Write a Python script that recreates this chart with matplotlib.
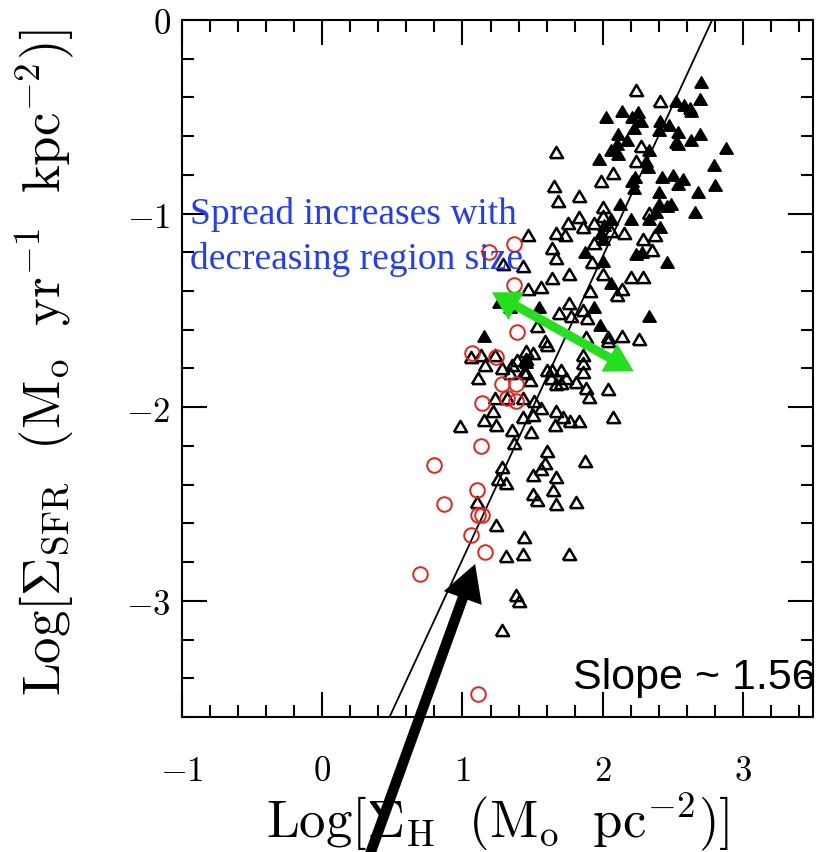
import numpy as np
import matplotlib
matplotlib.use("Agg")
import matplotlib.pyplot as plt
from matplotlib.patches import FancyArrowPatch

plt.rcParams['mathtext.fontset'] = 'cm'

# open triangles (log Sigma_H, log Sigma_SFR)
open_x = [2.24, 2.41, 2.27, 2.24, 2.07, 1.99, 1.83, 2.00, 2.00, 1.94, 1.86, 2.15, 2.06, 2.33, 2.29,
          2.37, 2.35, 1.94, 1.92, 2.00, 2.20, 2.29, 2.14, 2.10, 1.91, 1.86, 1.89, 2.035, 2.04, 2.14,
          2.255, 1.88, 1.67, 1.65, 1.68, 1.75, 1.83, 1.47, 1.67, 1.73, 1.64, 1.67, 1.29, 1.43, 1.76,
          1.64, 1.47, 1.56, 1.76, 1.69, 1.775, 1.53, 1.585, 1.60, 1.455, 1.50, 1.39, 1.35, 1.28,
          1.16, 1.455, 1.48, 1.60, 1.64, 1.70, 1.63, 1.70, 1.67, 1.74, 1.81, 1.86, 1.86, 1.86, 1.88,
          1.90, 2.035, 2.07, 1.23, 1.22, 1.15, 1.24, 1.43, 1.50, 1.51, 1.56, 1.67, 1.715, 1.77, 1.83,
          1.66, 1.35, 1.49, 1.37, 1.60, 1.59, 1.56, 1.50, 1.67, 1.87, 1.28, 1.11, 1.06, 1.34, 1.44,
          1.32, 1.43, 0.98, 1.25, 1.31, 1.645, 1.50, 1.53, 1.67, 1.81, 1.10, 1.24, 1.44, 1.43, 1.31,
          1.76, 1.38, 1.40, 1.28, 1.135, 1.23, 1.455]
open_y = [-0.364, -0.416, -0.65, -0.73, -0.79, -0.83, -0.91, -0.965, -1.01, -1.05, -1.07, -1.10, -1.09,
          -0.995, -1.13, -1.11, -1.19, -1.15, -1.25, -1.31, -1.33, -1.33, -1.39, -1.42, -1.40, -1.50,
          -1.54, -1.635, -1.66, -1.63, -1.65, -1.64, -0.68, -0.86, -0.935, -1.05, -1.02, -1.11, -1.10,
          -1.11, -1.18, -1.23, -1.26, -1.27, -1.31, -1.335, -1.39, -1.38, -1.46, -1.515, -1.53, -1.58,
          -1.66, -1.68, -1.71, -1.72, -1.755, -1.78, -1.795, -1.78, -1.825, -1.86, -1.81, -1.81, -1.81,
          -1.85, -1.875, -1.88, -1.85, -1.87, -1.73, -1.77, -1.82, -1.90, -1.945, -1.905, -2.05, -1.95,
          -2.02, -2.065, -2.09, -2.05, -2.04, -1.97, -2.005, -2.02, -2.05, -2.07, -2.07, -2.09, -2.12,
          -2.13, -2.185, -2.225, -2.29, -2.32, -2.35, -2.36, -2.28, -2.31, -1.85, -1.74, -1.825, -1.82,
          -1.95, -1.95, -2.095, -2.37, -2.39, -2.43, -2.45, -2.48, -2.50, -2.49, -2.49, -2.61, -2.67,
          -2.76, -2.77, -2.76, -2.97, -3.00, -3.15, -1.73, -1.73, -1.75]

# filled triangles
fill_x = [2.70, 2.69, 2.52, 2.58, 2.62, 2.63, 2.02, 2.14, 2.25, 2.21, 2.27, 2.41, 2.47, 2.40, 2.22,
          2.11, 2.54, 2.69, 2.17, 2.52, 2.63, 2.54, 2.88, 2.10, 2.06, 2.11, 2.33, 1.97, 2.31, 2.32,
          2.79, 2.23, 2.42, 2.50, 2.57, 2.54, 2.21, 2.22, 2.80, 2.68, 2.40, 2.12, 2.40, 2.49, 2.46,
          2.38, 2.66, 2.06, 2.20, 2.33, 2.01, 2.41, 1.99, 2.00, 1.87, 2.24, 2.28, 2.46, 2.00, 2.06,
          1.94, 2.33, 1.98, 1.545, 1.26, 1.34, 1.15, 1.455]
fill_y = [-0.318, -0.41, -0.42, -0.44, -0.455, -0.47, -0.50, -0.47, -0.476, -0.50, -0.52, -0.52, -0.545,
          -0.57, -0.56, -0.59, -0.58, -0.59, -0.62, -0.63, -0.62, -0.64, -0.66, -0.64, -0.67, -0.69,
          -0.67, -0.72, -0.73, -0.76, -0.75, -0.81, -0.81, -0.80, -0.82, -0.845, -0.83, -0.87, -0.85,
          -0.89, -0.89, -0.95, -0.95, -0.95, -0.96, -0.99, -0.99, -1.03, -1.03, -1.03, -1.06, -1.07,
          -1.10, -1.13, -1.20, -1.21, -1.20, -1.25, -1.245, -1.36, -1.48, -1.53, -1.575, -1.48, -1.455,
          -1.48, -1.63, -1.765]

# red open circles
circ_x = [1.37, 1.19, 1.37, 1.39, 1.07, 1.24, 1.28, 1.38, 1.32, 1.38, 1.14, 1.13, 0.80, 1.10, 0.87,
          1.11, 1.14, 1.06, 1.16, 0.70, 1.11]
circ_y = [-1.155, -1.20, -1.37, -1.61, -1.72, -1.74, -1.88, -1.88, -1.95, -1.97, -1.98, -2.20, -2.30,
          -2.43, -2.50, -2.555, -2.555, -2.66, -2.75, -2.86, -3.48]

# fitted relation, slope ~1.56
fit_x = [0.48, 2.78]
fit_y = [-3.6, 0.0]

xticks = [-1, 0, 1, 2, 3]
xticklabels = [r'$-1$', r'$0$', r'$1$', r'$2$', r'$3$']
yticks = [0, -1, -2, -3]
yticklabels = [r'$0$', r'$-1$', r'$-2$', r'$-3$']

fig = plt.figure(figsize=(8.16, 8.53), dpi=100)
ax = fig.add_axes([0.223, 0.1583, 0.7735, 0.8171])

tri = [(-1, -0.85), (1, -0.85), (0, 0.85), (-1, -0.85)]
ax.plot(fit_x, fit_y, color='black', lw=1.3, zorder=2)
ax.plot(open_x, open_y, ls='none', marker=tri, ms=9.5, mfc='none', mec='black', mew=1.8, zorder=3)
ax.plot(fill_x, fill_y, ls='none', marker=tri, ms=9.5, mfc='black', mec='black', mew=1.2, zorder=3)
ax.plot(circ_x, circ_y, ls='none', marker='o', ms=10.5, mfc='none', mec='#e8231a', mew=1.4, zorder=4)

# green double arrow, drawn as two heads out from the middle
g0, g1 = (1.21, -1.407), (2.22, -1.814)
gm = ((g0[0] + g1[0]) / 2, (g0[1] + g1[1]) / 2)
for end in (g0, g1):
    ax.add_patch(FancyArrowPatch(gm, end, arrowstyle='simple,head_length=2.0,head_width=2.3,tail_width=0.65',
                                 mutation_scale=10, lw=0, color='#22e01c', shrinkA=0, shrinkB=0,
                                 zorder=6))

# black arrow pointing at the faint end
ax.add_patch(FancyArrowPatch((0.30, -4.39), (1.09, -2.81),
                             arrowstyle='simple,head_length=2.6,head_width=2.9,tail_width=0.75',
                             mutation_scale=10, lw=0, color='black', shrinkA=0, shrinkB=0, zorder=6,
                             clip_on=False))

ax.text(-0.94, -0.91, 'Spread increases with\ndecreasing region size', color='#1f3cff',
        family='Liberation Serif', fontsize=27, va='top', ha='left', linespacing=1.35, zorder=7)
ax.text(3.52, -3.45, 'Slope ~ 1.56', family='Liberation Sans', fontsize=31, ha='right',
        va='baseline', zorder=7, clip_on=False)

ax.set_xlim(-1, 3.5)
ax.set_ylim(-3.6, 0)
ax.set_xticks(xticks)
ax.set_xticklabels(xticklabels)
ax.set_yticks(yticks)
ax.set_yticklabels(yticklabels)
ax.set_xticks(np.arange(-1, 3.51, 0.2), minor=True)
ax.set_yticks(np.arange(-3.6, 0.01, 0.2), minor=True)
ax.tick_params(which='both', direction='in', top=True, right=True, width=1.5, labelsize=25)
ax.tick_params(which='major', length=18)
ax.tick_params(which='minor', length=8.5)
ax.tick_params(axis='x', pad=26)
ax.tick_params(axis='y', pad=8)
for s in ax.spines.values():
    s.set_linewidth(1.5)

ax.set_xlabel(r'$\mathrm{Log}[\Sigma_{\mathrm{H}}\ \ (\mathrm{M}_{\mathrm{o}}\ \ \mathrm{pc}^{-2})]$',
              fontsize=38, va='center')
ax.xaxis.set_label_coords(0.50, -0.149)
ax.set_ylabel(r'$\mathrm{Log}[\Sigma_{\mathrm{SFR}}\ \ (\mathrm{M}_{\mathrm{o}}\ \ \mathrm{yr}^{-1}\ \ \mathrm{kpc}^{-2})]$',
              fontsize=38, va='center')
ax.yaxis.set_label_coords(-0.217, 0.51)

fig.savefig('out.png', dpi=100)
